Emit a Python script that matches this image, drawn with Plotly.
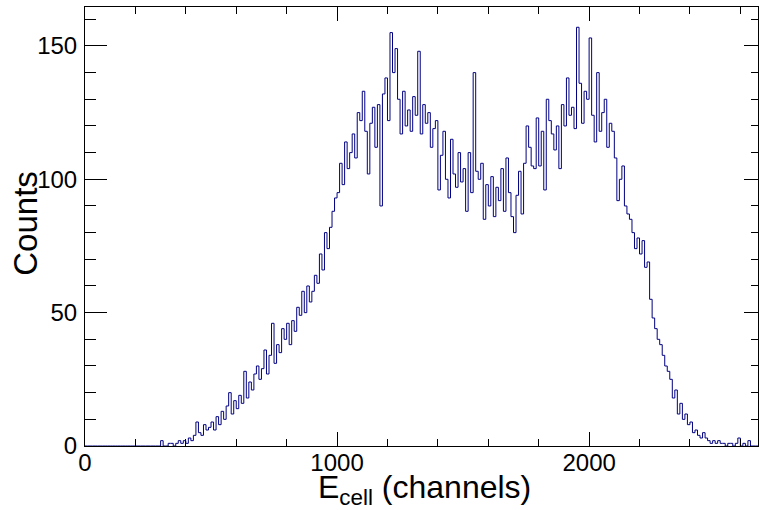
import plotly.graph_objects as go

# Histogram: 10-channel bins from 0 to 2670
bin_width = 10
x_min = 0
x_max = 2670

counts = (
    [0] * 30 +
    [2, 0, 0, 1, 1, 0, 1, 2, 1, 2] +            # 300-390
    [1, 3, 2, 4, 9, 5, 4, 8, 6, 7] +            # 400-490
    [9, 6, 11, 8, 13, 10, 15, 20, 12, 17] +     # 500-590
    [14, 19, 16, 28, 18, 24, 21, 27, 30, 25] +  # 600-690
    [29, 36, 27, 34, 46, 31, 38, 35, 44, 40] +  # 700-790
    [46, 38, 47, 43, 52, 49, 58, 50, 60, 54] +  # 800-890
    [58, 64, 61, 72, 66, 80, 74, 82, 88, 93] +  # 900-990
    [95, 106, 98, 114, 104, 110, 117, 108, 125, 122] +   # 1000-1090
    [133, 118, 102, 121, 127, 112, 128, 90, 132, 138] +  # 1100-1190
    [122, 155, 140, 149, 130, 117, 133, 120, 126, 118] + # 1200-1290
    [131, 124, 148, 117, 128, 121, 125, 112, 119, 122] + # 1300-1390
    [96, 109, 118, 100, 93, 115, 102, 97, 110, 99] +     # 1400-1490
    [104, 88, 110, 95, 140, 103, 100, 106, 85, 98] +     # 1500-1590
    [90, 101, 86, 97, 92, 104, 88, 108, 95, 86] +        # 1600-1690
    [80, 94, 103, 87, 106, 120, 112, 105, 104, 123] +    # 1700-1790
    [105, 118, 96, 130, 122, 117, 111, 120, 104, 128] +  # 1800-1890
    [120, 138, 124, 127, 119, 157, 136, 121, 133, 130] + # 1900-1990
    [153, 124, 114, 140, 118, 125, 130, 112, 121, 118] + # 2000-2090
    [108, 92, 100, 105, 90, 87, 85, 80, 74, 78] +        # 2100-2190
    [72, 77, 67, 69, 55, 48, 44, 40, 38, 34] +           # 2200-2290
    [30, 28, 25, 18, 21, 12, 16, 10, 12, 8] +            # 2300-2390
    [9, 5, 6, 4, 3, 5, 3, 2, 1, 2] +                     # 2400-2490
    [1, 2, 1, 1, 0, 1, 1, 0, 1, 3] +                     # 2500-2590
    [0, 1, 0, 2, 0, 0, 0]                                # 2600-2660
)

x_title = "E<sub>cell</sub> (channels)"
y_title = "Counts"
y_max = 164.6

edges = [x_min + i * bin_width for i in range(len(counts) + 1)]
yvals = counts + [counts[-1]]

FONT = "Liberation Sans, Arial, Helvetica, sans-serif"
LINE = "#000080"

fig = go.Figure()
fig.add_trace(go.Scatter(
    x=edges, y=yvals, mode="lines", line=dict(shape="hv", color=LINE, width=1),
    showlegend=False, hoverinfo="skip"))
fig.add_trace(go.Scatter(
    x=[x_min], y=[0], mode="markers", marker=dict(opacity=0),
    xaxis="x2", yaxis="y2", showlegend=False, hoverinfo="skip"))

common = dict(showgrid=False, zeroline=False, showline=True, linecolor="black",
              linewidth=1, ticks="inside", tickcolor="black", tickwidth=1)

fig.update_layout(
    width=759, height=510,
    margin=dict(l=85, r=1, t=7, b=64),
    paper_bgcolor="white", plot_bgcolor="white",
    font=dict(family=FONT, color="black", size=24),
    xaxis=dict(range=[x_min, x_max], dtick=1000, tick0=0, ticklen=14,
               minor=dict(dtick=200, tick0=0, ticklen=7, ticks="inside", tickcolor="black"),
               tickfont=dict(size=24), ticklabelstandoff=-5, **common),
    yaxis=dict(range=[0, y_max], dtick=50, tick0=0, ticklen=22,
               minor=dict(dtick=10, tick0=0, ticklen=11, ticks="inside", tickcolor="black"),
               tickfont=dict(size=24), ticklabelstandoff=2, **common),
    xaxis2=dict(range=[x_min, x_max], overlaying="x", side="top", anchor="y2",
                dtick=1000, tick0=0, ticklen=14, showticklabels=False,
                minor=dict(dtick=200, tick0=0, ticklen=7, ticks="inside", tickcolor="black"),
                **common),
    yaxis2=dict(range=[0, y_max], overlaying="y", side="right", anchor="x2",
                dtick=50, tick0=0, ticklen=14, showticklabels=False,
                minor=dict(dtick=10, tick0=0, ticklen=7, ticks="inside", tickcolor="black"),
                **common),
    annotations=[
        dict(text=x_title, xref="paper", yref="paper", x=0.505, y=-0.100,
             xanchor="center", yanchor="middle", showarrow=False,
             font=dict(family=FONT, size=32, color="black")),
        dict(text=y_title, xref="paper", yref="paper", x=-0.088, y=0.508,
             xanchor="center", yanchor="middle", textangle=-90, showarrow=False,
             font=dict(family=FONT, size=33, color="black")),
    ],
)

fig.write_html("out.html")
